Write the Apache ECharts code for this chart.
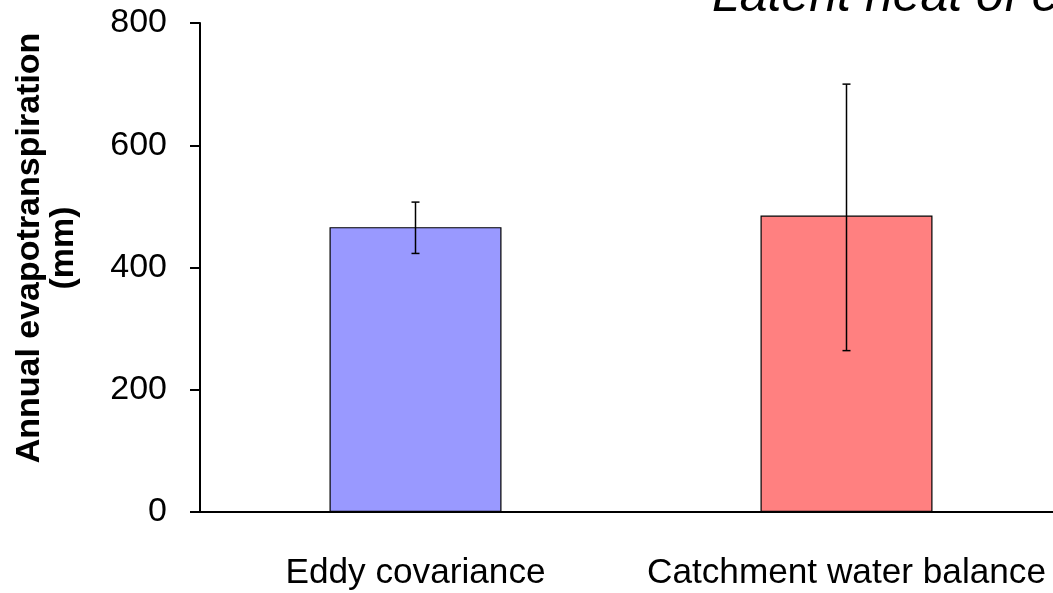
<!DOCTYPE html>
<html>
<head>
<meta charset="utf-8">
<script src="https://cdn.jsdelivr.net/npm/echarts@6/dist/echarts.min.js"></script>
<style>
html,body{margin:0;padding:0;background:#fff;}
#chart{width:1053px;height:593px;}
</style>
</head>
<body>
<div id="chart"></div>
<script>
const categories = ['Eddy covariance', 'Catchment water balance'];
const etValues = [466, 485];
const errLow = [423, 264];
const errHigh = [507, 700];
const yTicks = [0, 200, 400, 600, 800];
const barColors = ['#9999FF', '#FF8080'];

const chart = echarts.init(document.getElementById('chart'), null, {renderer: 'canvas'});
const FONT = '"Liberation Sans", Arial, sans-serif';

const option = {
  animation: false,
  backgroundColor: '#fff',
  grid: {left: 200, width: 862, top: 23, bottom: 81, containLabel: false, outerBoundsMode: 'none'},
  xAxis: {
    type: 'category',
    data: categories,
    axisLine: {show: true, lineStyle: {color: '#000', width: 2}},
    axisTick: {show: false},
    axisLabel: {color: '#000', fontSize: 35.2, fontFamily: FONT, margin: 44, interval: 0, hideOverlap: false},
    splitLine: {show: false}
  },
  yAxis: {
    type: 'value',
    min: yTicks[0],
    max: yTicks[yTicks.length - 1],
    interval: 200,
    axisLine: {show: true, lineStyle: {color: '#000', width: 2}},
    axisTick: {show: true, inside: false, length: 10, lineStyle: {color: '#000', width: 2}},
    axisLabel: {color: '#000', fontSize: 34, fontFamily: FONT, margin: 33},
    splitLine: {show: false}
  },
  graphic: [
    {
      type: 'text',
      x: 47, y: 248,
      rotation: Math.PI / 2,
      style: {
        text: 'Annual evapotranspiration\n(mm)',
        font: 'bold 34px ' + FONT,
        fill: '#000',
        align: 'center',
        verticalAlign: 'middle',
        lineHeight: 34
      }
    },
    {
      type: 'text',
      x: 712, y: 22,
      style: {
        text: 'Latent heat of evaporation',
        font: 'italic 50px ' + FONT,
        fill: '#000',
        align: 'left',
        verticalAlign: 'bottom'
      }
    }
  ],
  series: [
    {
      type: 'bar',
      data: etValues.map((v, i) => ({value: v, itemStyle: {color: barColors[i]}})),
      barWidth: 172,
      itemStyle: {borderColor: '#000', borderWidth: 1.2},
      z: 2
    },
    {
      type: 'custom',
      z: 3,
      data: categories.map((c, i) => [i, errLow[i], errHigh[i]]),
      renderItem: function (params, api) {
        const x = api.value(0);
        const lo = api.coord([x, api.value(1)]);
        const hi = api.coord([x, api.value(2)]);
        const cap = 4;
        const st = {stroke: '#000', lineWidth: 1.5};
        return {
          type: 'group',
          children: [
            {type: 'line', shape: {x1: lo[0], y1: lo[1], x2: hi[0], y2: hi[1]}, style: st},
            {type: 'line', shape: {x1: lo[0] - cap, y1: lo[1], x2: lo[0] + cap, y2: lo[1]}, style: st},
            {type: 'line', shape: {x1: hi[0] - cap, y1: hi[1], x2: hi[0] + cap, y2: hi[1]}, style: st}
          ]
        };
      }
    }
  ]
};
chart.setOption(option);
</script>
</body>
</html>
